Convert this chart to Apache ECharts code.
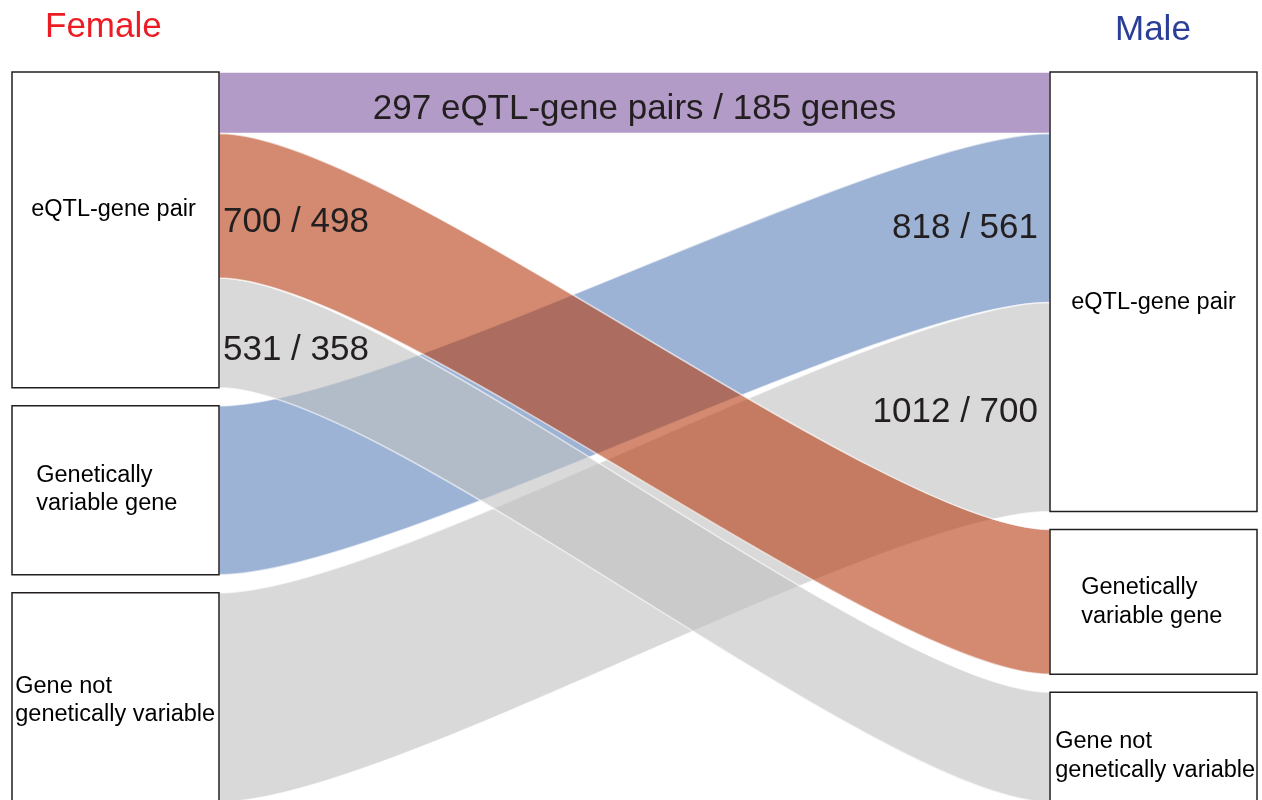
<!DOCTYPE html>
<html>
<head>
<meta charset="utf-8">
<title>Female vs Male eQTL categories</title>
<script src="https://cdn.jsdelivr.net/npm/echarts@6/dist/echarts.min.js"></script>
<style>
  html, body { margin: 0; padding: 0; background: #fff; }
  #chart { width: 1262px; height: 800px; }
</style>
</head>
<body>
<div id="chart"></div>
<script>
// ---- data ----
const sexes = ['Female', 'Male'];
const categories = ['eQTL-gene pair', 'Genetically\nvariable gene', 'Gene not\ngenetically variable'];
// flows listed in drawing order (later ones are painted on top)
const flowFrom = [0, 1, 2, 0, 0];        // female category index
const flowTo = [0, 0, 0, 2, 1];          // male category index
const flowPairs = [297, 818, 1012, 531, 700];
const flowGenes = [185, 561, 700, 358, 498];

// ---- styling ----
const FONT = '"Liberation Sans", Arial, Helvetica, sans-serif';
const TEXT = '#231f20';
const SERIES_LEFT = 12;
const SERIES_TOP = 72;

const flowColors = [
  { color: '#b39bc8', opacity: 1 },
  { color: 'rgb(92,128,185)', opacity: 0.6 },
  { color: 'rgb(192,192,192)', opacity: 0.6 },
  { color: 'rgb(192,192,192)', opacity: 0.6 },
  { color: 'rgb(182,60,17)', opacity: 0.6 }
];
// where each flow's "pairs / genes" caption sits
const flowCaption = [
  { end: 'middle', dy: 3 },
  { end: 'target', dy: 7 },
  { end: 'target', dy: 2 },
  { end: 'source', dy: 14 },
  { end: 'source', dy: 13 }
];
// label placement inside the category boxes, per side
const nodeLabels = [
  [
    { position: 'inside', offset: [-2, -20] },
    { position: 'insideLeft', distance: 25, offset: [0, -1] },
    { position: 'insideLeft', distance: 4, offset: [0, 3] }
  ],
  [
    { position: 'inside', offset: [0, 11] },
    { position: 'insideLeft', distance: 32 },
    { position: 'insideLeft', distance: 6, offset: [0, 9] }
  ]
];

const nodeId = (s, c) => sexes[s] + ' | ' + categories[c];

const nodes = [];
sexes.forEach((s, si) => {
  categories.forEach((c, ci) => {
    nodes.push({
      name: nodeId(si, ci),
      text: c,
      label: nodeLabels[si][ci]
    });
  });
});

const links = flowPairs.map((v, i) => ({
  source: nodeId(0, flowFrom[i]),
  target: nodeId(1, flowTo[i]),
  value: v,
  lineStyle: {
    color: flowColors[i].color,
    opacity: flowColors[i].opacity,
    borderColor: '#ffffff',
    borderWidth: 1.5
  }
}));

const chart = echarts.init(document.getElementById('chart'), null, { renderer: 'canvas' });

chart.setOption({
  animation: false,
  backgroundColor: '#ffffff',
  title: [
    {
      text: sexes[0], left: 40, top: 5, padding: 5,
      textStyle: { color: '#ec1c24', fontSize: 35, fontWeight: 'normal', fontFamily: FONT }
    },
    {
      text: sexes[1], left: 1110, top: 8, padding: 5,
      textStyle: { color: '#2b3e97', fontSize: 35, fontWeight: 'normal', fontFamily: FONT }
    }
  ],
  series: [{
    type: 'sankey',
    left: SERIES_LEFT,
    right: 5,
    top: SERIES_TOP,
    bottom: -2,
    nodeWidth: 207,
    nodeGap: 18,
    layoutIterations: 0,
    draggable: false,
    silent: true,
    emphasis: { disabled: true },
    itemStyle: { color: '#ffffff', borderColor: '#231f20', borderWidth: 1.5 },
    lineStyle: { curveness: 0.2 },
    label: {
      show: true,
      position: 'inside',
      color: '#000',
      fontSize: 23.5,
      lineHeight: 28.5,
      fontFamily: FONT,
      formatter: p => p.data.text
    },
    edgeLabel: { show: false },
    data: nodes,
    links: links
  }]
});

// Place the "pairs / genes" captions from the computed sankey layout.
function flowCaptions() {
  const series = chart.getModel().getSeriesByIndex(0);
  const graph = series.getGraph();
  const rect = series.layoutInfo || { x: SERIES_LEFT, y: SERIES_TOP };
  const out = [];
  flowPairs.forEach((v, i) => {
    const edge = graph.getEdgeByIndex(i);
    const el = edge.getLayout();
    const n1 = edge.node1.getLayout();
    const n2 = edge.node2.getLayout();
    const x1 = rect.x + n1.x + n1.dx;
    const x2 = rect.x + n2.x;
    const ys = rect.y + n1.y + el.sy + el.dy / 2;
    const yt = rect.y + n2.y + el.ty + el.dy / 2;
    const cfg = flowCaption[i];
    let x, y, align, text;
    if (cfg.end === 'middle') {
      x = (x1 + x2) / 2; y = (ys + yt) / 2; align = 'center';
      text = v + ' eQTL-gene pairs / ' + flowGenes[i] + ' genes';
    } else if (cfg.end === 'source') {
      x = x1 + 4; y = ys; align = 'left';
      text = v + ' / ' + flowGenes[i];
    } else {
      x = x2 - 12; y = yt; align = 'right';
      text = v + ' / ' + flowGenes[i];
    }
    out.push({
      type: 'text',
      x: x,
      y: y + cfg.dy + 3.5,
      silent: true,
      z: 100,
      style: {
        text: text,
        fill: TEXT,
        font: '35px ' + FONT,
        align: align,
        verticalAlign: 'middle'
      }
    });
  });
  return out;
}

chart.setOption({ graphic: flowCaptions() });
</script>
</body>
</html>
